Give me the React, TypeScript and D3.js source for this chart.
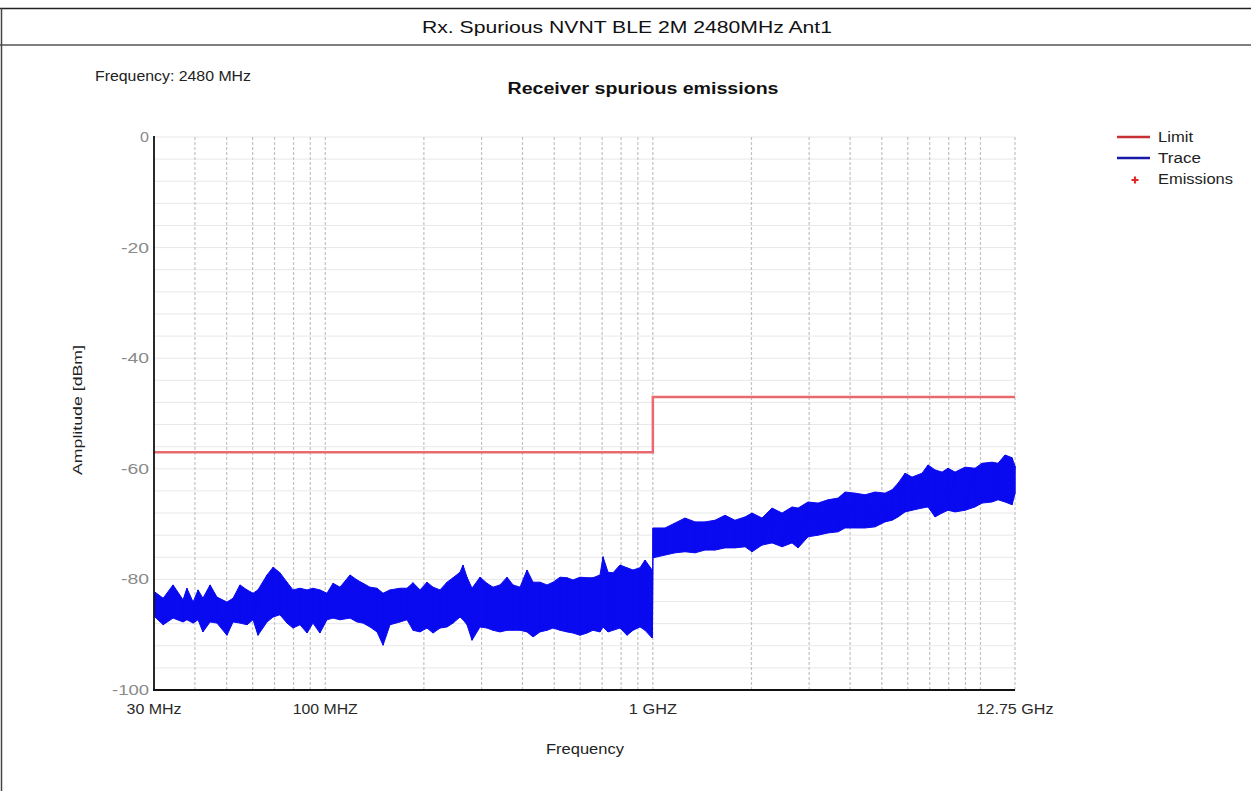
import React from 'react';
import * as d3 from 'd3';

// ---------- text ----------
const pageTitle = 'Rx. Spurious NVNT BLE 2M 2480MHz Ant1';
const chartTitle = 'Receiver spurious emissions';
const infoText = 'Frequency: 2480 MHz';
const xAxisTitle = 'Frequency';
const yAxisTitle = 'Amplitude [dBm]';

// ---------- axes ----------
const xDomain = [30, 12750]; // MHz
const yDomain = [-100, 0]; // dBm
const yTicks = [0, -20, -40, -60, -80, -100];
const yMinorStep = 4;
const xTickFreqs = [30, 100, 1000, 12750];
const xTickLabels = ['30 MHz', '100 MHZ', '1 GHZ', '12.75 GHz'];
const xGridFreqs = [40, 50, 60, 70, 80, 90, 100, 200, 300, 400, 500, 600, 700, 800, 900, 1000,
  2000, 3000, 4000, 5000, 6000, 7000, 8000, 9000, 10000, 12750];

// ---------- limit ----------
const limitFreqs = [30, 1000, 1000, 12750];
const limitValues = [-57, -57, -47, -47];

// ---------- trace (envelope) ----------
const traceLowFreqs = [30.2, 32.0, 34.3, 36.8, 37.8, 39.5, 40.9, 42.3, 44.5, 46.7,
  50.1, 52.3, 54.9, 57.7, 60.2, 62.3, 66.4, 69.3, 72.7, 76.4,
  79.7, 83.7, 88.0, 91.7, 96.3, 101.2, 105.6, 110.9, 119.0, 125.0,
  130.4, 136.9, 143.9, 150.1, 157.6, 169.1, 177.6, 185.3, 194.6, 204.4,
  213.3, 224.0, 235.3, 245.5, 257.8, 263.3, 270.8, 280.5, 296.7, 311.6,
  325.1, 341.5, 358.7, 374.2, 393.1, 412.9, 430.7, 452.4, 475.3, 495.8,
  520.8, 547.0, 570.6, 599.3, 629.5, 656.6, 689.8, 704.4, 729.7, 755.8,
  793.8, 834.0, 869.9, 913.7, 946.4, 995];
const traceLowMax = [-82.3, -83.4, -81.0, -83.7, -81.6, -84.1, -81.9, -83.4, -81.0, -83.2,
  -84.1, -83.4, -81.0, -81.9, -82.5, -81.9, -79.2, -77.8, -78.8, -80.5,
  -81.9, -81.6, -81.9, -81.6, -81.9, -82.5, -80.7, -81.4, -79.2, -80.1,
  -80.7, -81.4, -81.6, -82.5, -81.9, -81.6, -81.6, -80.6, -81.9, -80.5,
  -81.4, -81.9, -80.5, -79.7, -78.7, -77.4, -79.6, -81.6, -79.6, -80.7,
  -81.4, -81.0, -79.6, -81.0, -81.4, -78.3, -80.5, -80.5, -81.0, -80.5,
  -79.6, -79.7, -80.1, -79.6, -79.7, -79.7, -79.2, -75.9, -78.7, -78.8,
  -77.4, -77.9, -78.3, -77.9, -76.5, -78.3];
const traceLowMin = [-86.8, -88.2, -87.0, -87.7, -87.3, -87.9, -87.3, -89.5, -87.7, -87.9,
  -90.1, -87.7, -87.9, -88.2, -87.3, -90.1, -87.7, -86.8, -86.4, -87.9,
  -88.8, -88.2, -89.7, -87.9, -89.7, -87.3, -87.0, -87.3, -87.0, -87.7,
  -87.9, -88.6, -89.5, -91.9, -88.2, -87.7, -87.3, -89.2, -89.5, -88.8,
  -89.7, -88.8, -88.6, -87.9, -86.8, -87.3, -88.2, -91.0, -88.6, -88.8,
  -89.2, -89.5, -89.2, -89.2, -89.2, -89.5, -90.4, -89.5, -89.2, -88.8,
  -89.2, -89.5, -89.7, -90.1, -89.7, -89.2, -89.5, -88.6, -89.5, -89.2,
  -88.8, -90.1, -89.2, -88.6, -89.2, -90.6];

const traceHighFreqs = [1002, 1089, 1169, 1254, 1345, 1443, 1548, 1661, 1781, 1912,
  2008, 2154, 2311, 2480, 2660, 2775, 2977, 3194, 3426, 3676,
  3861, 4142, 4444, 4769, 5115, 5373, 5606, 5887, 6183, 6633,
  6918, 7267, 7636, 7963, 8365, 8974, 9627, 10113, 10850, 11317,
  11888, 12490, 12750];
const traceHighMax = [-70.7, -70.7, -69.8, -68.9, -69.6, -69.6, -69.3, -68.4, -69.3, -68.7,
  -68.0, -68.9, -67.1, -68.0, -66.9, -67.1, -66.0, -66.2, -65.6, -65.3,
  -64.2, -64.4, -64.7, -64.2, -64.4, -63.8, -62.6, -60.8, -61.5, -60.8,
  -59.3, -60.2, -60.6, -59.9, -60.6, -59.7, -59.9, -59.0, -58.8, -59.0,
  -57.5, -58.0, -59.5];
const traceHighMin = [-76.1, -75.6, -75.2, -75.0, -75.2, -74.7, -74.7, -74.3, -74.3, -74.1,
  -75.0, -73.8, -73.4, -74.1, -73.4, -74.3, -72.3, -72.0, -71.6, -71.4,
  -70.7, -70.7, -70.7, -70.5, -69.6, -69.3, -68.7, -67.8, -67.5, -67.1,
  -66.9, -68.7, -68.0, -67.5, -67.8, -67.5, -66.9, -66.2, -66.0, -65.6,
  -66.0, -66.5, -64.5];

const legendLabels = ['Limit', 'Trace', 'Emissions'];

const FONT = '"Liberation Sans", Arial, Helvetica, sans-serif';

export default function App() {
  const W = 1251, H = 791;
  const x = d3.scaleLog().domain(xDomain).range([154, 1015]);
  const y = d3.scaleLinear().domain(yDomain).range([690, 137]);

  const minorY = d3.range(yDomain[0], yDomain[1] + 0.001, yMinorStep);

  const limitLine = d3.line<number>()
    .x((_, i) => x(limitFreqs[i]))
    .y((v) => y(v));

  type S = { f: number; hi: number; lo: number };
  const seg1: S[] = traceLowFreqs.map((f, i) => ({ f, hi: traceLowMax[i], lo: traceLowMin[i] }));
  const seg2: S[] = traceHighFreqs.map((f, i) => ({ f, hi: traceHighMax[i], lo: traceHighMin[i] }));
  const area = d3.area<S>().x((d) => x(d.f)).y0((d) => y(d.lo)).y1((d) => y(d.hi));
  const zig = (seg: S[]) => {
    const pts: [number, number][] = [];
    seg.forEach((d) => {
      pts.push([x(d.f), y(d.hi)]);
      pts.push([x(d.f), y(d.lo)]);
    });
    return d3.line()(pts) || '';
  };
  const last1 = seg1[seg1.length - 1];
  const first2 = seg2[0];

  const traceColor = '#0a0af0';
  const limitColor = '#e86a6e';

  return (
    <svg width={W} height={H} style={{ position: 'absolute', left: 0, top: 0, background: '#fff' }}
      fontFamily={FONT}>
      <rect x={0} y={0} width={W} height={H} fill="#fff" />
      {/* frame */}
      <line x1={0} x2={W} y1={8.5} y2={8.5} stroke="#222" strokeWidth={1.5} />
      <line x1={0} x2={W} y1={45} y2={45} stroke="#555" strokeWidth={1.5} />
      <line x1={1.5} x2={1.5} y1={8} y2={H} stroke="#444" strokeWidth={1.5} />
      <text x={627} y={33} textAnchor="middle" fontSize={17} fill="#111"
        textLength={410} lengthAdjust="spacingAndGlyphs">{pageTitle}</text>

      <text x={95} y={81} fontSize={14} fill="#222" textLength={156} lengthAdjust="spacingAndGlyphs">{infoText}</text>
      <text x={643} y={94} textAnchor="middle" fontSize={16} fontWeight="bold" fill="#111"
        textLength={271} lengthAdjust="spacingAndGlyphs">{chartTitle}</text>

      {/* horizontal minor grid */}
      {minorY.map((v) => (
        <line key={'h' + v} x1={154} x2={1015} y1={y(v)} y2={y(v)} stroke="#e8e8e8" strokeWidth={1} />
      ))}
      {/* vertical dashed grid */}
      {xGridFreqs.map((f) => (
        <line key={'v' + f} x1={x(f)} x2={x(f)} y1={137} y2={690} stroke="#c2c2c2" strokeWidth={1.2}
          strokeDasharray="3 2" />
      ))}

      {/* limit */}
      <path d={limitLine(limitValues) || ''} fill="none" stroke={limitColor} strokeWidth={2.5} />

      {/* trace */}
      <path d={area(seg1) || ''} fill={traceColor} stroke={traceColor} strokeWidth={1} strokeLinejoin="miter" />
      <path d={zig(seg1)} fill="none" stroke={traceColor} strokeWidth={1} />
      <line x1={x(last1.f)} x2={x(first2.f)} y1={y(last1.lo)} y2={y(first2.hi)} stroke={traceColor} strokeWidth={1.5} />
      <path d={area(seg2) || ''} fill={traceColor} stroke={traceColor} strokeWidth={1} />
      <path d={zig(seg2)} fill="none" stroke={traceColor} strokeWidth={1} />

      {/* axes */}
      <line x1={154} x2={154} y1={136} y2={690.5} stroke="#111" strokeWidth={1.8} />
      <line x1={153} x2={1015} y1={690} y2={690} stroke="#111" strokeWidth={1.8} />

      {yTicks.map((v) => (
        <text key={'yt' + v} x={149} y={y(v) + 5} textAnchor="end" fontSize={14} fill="#8a8a8a"
          textLength={v === 0 ? 9 : v === -100 ? 37 : 28} lengthAdjust="spacingAndGlyphs">{v}</text>
      ))}
      {xTickFreqs.map((f, i) => (
        <text key={'xt' + f} x={x(f)} y={714} textAnchor="middle" fontSize={14} fill="#2a2a2a"
          textLength={[55, 65, 48, 77][i]} lengthAdjust="spacingAndGlyphs">{xTickLabels[i]}</text>
      ))}

      <text x={585} y={754} textAnchor="middle" fontSize={14} fill="#222" textLength={78}
        lengthAdjust="spacingAndGlyphs">{xAxisTitle}</text>
      <text transform="translate(82,410) rotate(-90)" textAnchor="middle" fontSize={13} fill="#222"
        textLength={130} lengthAdjust="spacingAndGlyphs">{yAxisTitle}</text>

      {/* legend */}
      <line x1={1117} x2={1150} y1={137} y2={137} stroke="#c83036" strokeWidth={2.5} />
      <line x1={1117} x2={1150} y1={158} y2={158} stroke="#1a1aa8" strokeWidth={2.5} />
      <path d="M1131.5,180 h7 M1135,176.5 v7" stroke="#e02828" strokeWidth={2.2} />
      {legendLabels.map((t, i) => (
        <text key={t} x={1158} y={142 + i * 21} fontSize={14} fill="#222"
          textLength={[35, 43, 75][i]} lengthAdjust="spacingAndGlyphs">{t}</text>
      ))}
    </svg>
  );
}
